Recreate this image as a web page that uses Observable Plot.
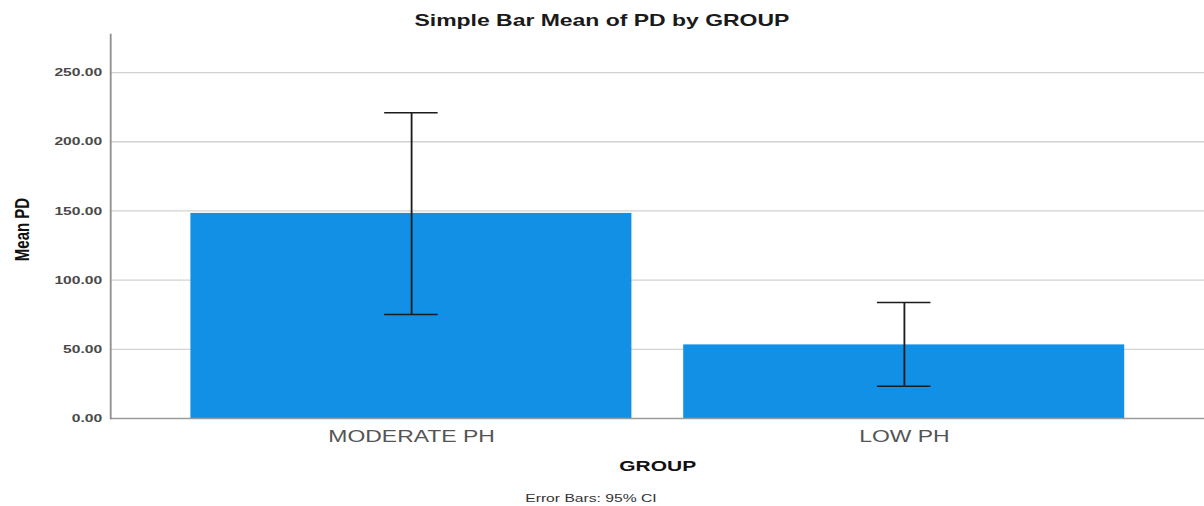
<!DOCTYPE html>
<html>
<head>
<meta charset="utf-8">
<script src="https://cdn.jsdelivr.net/npm/d3@7"></script>
<script src="https://cdn.jsdelivr.net/npm/@observablehq/plot@0.6"></script>
<style>
  html, body { margin: 0; padding: 0; background: #fff; width: 1204px; height: 506px; overflow: hidden; }
  body { font-family: "Liberation Sans", Arial, sans-serif; }
  #title { height: 34px; line-height: 40px; text-align: center; font-weight: bold; font-size: 16.4px; color: #1a1a1a; white-space: nowrap; }
  #title span, #caption span { display: inline-block; transform: scaleX(1.4); }
  #caption { height: 22px; line-height: 28px; text-align: center; font-size: 11.2px; color: #333; white-space: nowrap; position: relative; left: -11px; }
  #chart svg { display: block; }
</style>
</head>
<body>
<div id="title"><span>Simple Bar Mean of PD by GROUP</span></div>
<div id="chart"></div>
<div id="caption"><span>Error Bars: 95% CI</span></div>
<script>
const groups = ["MODERATE PH", "LOW PH"];
const means = [148.2, 53.2];
const ciLow = [75.1, 23.3];
const ciHigh = [220.9, 83.8];
const yTicks = [0, 50, 100, 150, 200, 250];
const yLabel = "Mean PD";
const xLabel = "GROUP";

const rows = groups.map((g, i) => ({group: g, mean: means[i], lo: ciLow[i], hi: ciHigh[i]}));

const SX = 1.4;
const W = 1204 / SX;
const H = 450;

const plot = Plot.plot({
  width: W,
  height: H,
  marginLeft: 110 / SX,
  marginRight: 0,
  marginTop: 0,
  marginBottom: 66,
  style: {fontFamily: "Liberation Sans, Arial, sans-serif", background: "white", overflow: "visible"},
  x: {domain: groups, paddingInner: 0.104, paddingOuter: 0.16, align: 0.5, label: null},
  y: {domain: [0, 277.5], label: null},
  marks: [
    Plot.gridY(yTicks.filter(d => d > 0), {stroke: "#d2d2d2", strokeOpacity: 1, strokeWidth: 1.3}),
    Plot.barY(rows, {x: "group", y: "mean", fill: "#1290e5"}),
    Plot.ruleX(rows, {x: "group", y1: "lo", y2: "hi", stroke: "#1c1c1c", strokeWidth: 1.3}),
    Plot.tickY(rows, {x: "group", y: "lo", stroke: "#1c1c1c", strokeWidth: 1.5, insetLeft: 138.4, insetRight: 138.4}),
    Plot.tickY(rows, {x: "group", y: "hi", stroke: "#1c1c1c", strokeWidth: 1.5, insetLeft: 138.4, insetRight: 138.4}),
    Plot.ruleY([0], {stroke: "#9a9a9a", strokeWidth: 1.3}),
    Plot.frame({anchor: "left", stroke: "#8f8f8f", strokeWidth: 1.3}),
    Plot.axisY({ticks: yTicks, tickSize: 0, tickPadding: 6, tickFormat: d => d.toFixed(2), fontSize: 11.2, fill: "#4a4a4a", fontWeight: "bold", label: null}),
    Plot.axisX({tickSize: 0, tickPadding: 12, fontSize: 16.4, fill: "#555", label: null}),
    Plot.text([xLabel], {frameAnchor: "bottom", dy: 52, fontSize: 15, fontWeight: "bold", fill: "#111"}),
    Plot.text([yLabel], {frameAnchor: "left", textAnchor: "middle", lineAnchor: "middle", dx: -63, dy: 3, rotate: -90, fontSize: 15, fontWeight: "bold", fill: "#111"})
  ]
});

plot.setAttribute("width", 1204);
plot.setAttribute("height", H);
plot.setAttribute("preserveAspectRatio", "none");
plot.style.maxWidth = "none";
plot.style.width = "1204px";
plot.style.height = H + "px";
document.getElementById("chart").appendChild(plot);
</script>
</body>
</html>
